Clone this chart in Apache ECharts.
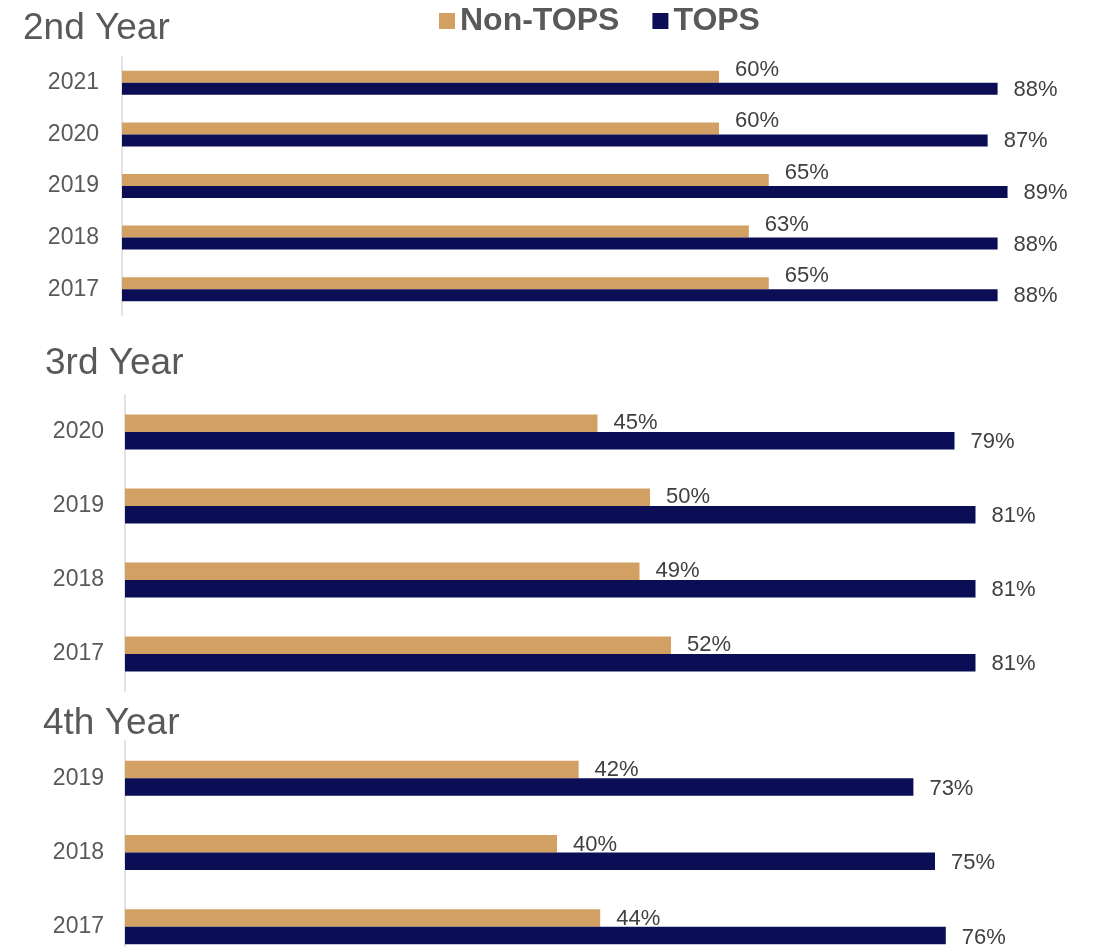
<!DOCTYPE html>
<html>
<head>
<meta charset="utf-8">
<script src="https://cdn.jsdelivr.net/npm/echarts@6/dist/echarts.min.js"></script>
<style>
  html, body { margin: 0; padding: 0; background: #fff; overflow: hidden; }
  /* taller than the window so the last panel can run past the bottom edge */
  #main { width: 1094px; height: 1000px; }
</style>
</head>
<body>
<div id="main"></div>
<script>
// data
var years2 = ['2021', '2020', '2019', '2018', '2017']
var nonTops2 = [60, 60, 65, 63, 65]
var tops2 = [88, 87, 89, 88, 88]

var years3 = ['2020', '2019', '2018', '2017']
var nonTops3 = [45, 50, 49, 52]
var tops3 = [79, 81, 81, 81]

var years4 = ['2019', '2018', '2017']
var nonTops4 = [42, 40, 44]
var tops4 = [73, 75, 76]

var titles = ['2nd Year', '3rd Year', '4th Year']

var FONT = 'Liberation Sans, Arial, sans-serif'
var TAN = '#D1A062'
var NAVY = '#0B0E55'
var LABEL = '#404040'

// panel layout: grid left/top/height, x max, bar width, label offsets
var panels = [
  { years: years2, non: nonTops2, tops: tops2, left: 122, top: 57, height: 258, max: 90, width: 895.5, bar: 12, offNon: [0, -7], offTops: [0, 1], margin: 23 },
  { years: years3, non: nonTops3, tops: tops3, left: 125, top: 395, height: 296, max: 90, width: 945, bar: 17.5, offNon: [0, 0], offTops: [0, 1], margin: 21 },
  { years: years4, non: nonTops4, tops: tops4, left: 125, top: 741, height: 223, max: 80, width: 864, bar: 17.5, offNon: [0, 1], offTops: [0, 2], margin: 21 }
]

var grid = []
var xAxis = []
var yAxis = []
var series = []

panels.forEach(function (p, i) {
  grid.push({ left: p.left, top: p.top, width: p.width, height: p.height })
  xAxis.push({
    gridIndex: i,
    type: 'value',
    min: 0,
    max: p.max,
    show: false
  })
  yAxis.push({
    gridIndex: i,
    type: 'category',
    inverse: true,
    data: p.years,
    axisLine: { show: true, lineStyle: { color: '#D9D9D9', width: 1.5 } },
    axisTick: { show: false },
    axisLabel: { color: '#595959', fontSize: 23, fontFamily: FONT, margin: p.margin },
    splitLine: { show: false }
  })
  series.push({
    name: 'Non-TOPS',
    type: 'bar',
    xAxisIndex: i,
    yAxisIndex: i,
    data: p.non,
    barWidth: p.bar,
    barGap: '0%',
    itemStyle: { color: TAN },
    label: {
      show: true,
      position: 'right',
      distance: 16,
      offset: p.offNon,
      formatter: '{c}%',
      color: LABEL,
      fontSize: 22,
      fontFamily: FONT
    }
  })
  series.push({
    name: 'TOPS',
    type: 'bar',
    xAxisIndex: i,
    yAxisIndex: i,
    data: p.tops,
    barWidth: p.bar,
    barGap: '0%',
    itemStyle: { color: NAVY },
    label: {
      show: true,
      position: 'right',
      distance: 16,
      offset: p.offTops,
      formatter: '{c}%',
      color: LABEL,
      fontSize: 22,
      fontFamily: FONT
    }
  })
})

var titleStyle = { color: '#595959', fontSize: 37, fontWeight: 'normal', fontFamily: FONT }

var myChart = echarts.init(document.getElementById('main'))
myChart.setOption({
  animation: false,
  title: [
    { text: titles[0], left: 18, top: 5, textStyle: titleStyle },
    { text: titles[1], left: 40, top: 340, textStyle: titleStyle },
    { text: titles[2], left: 38, top: 700, textStyle: titleStyle }
  ],
  legend: {
    data: ['Non-TOPS', 'TOPS'],
    left: 434,
    top: 0,
    itemWidth: 16,
    itemHeight: 16,
    itemGap: 33,
    icon: 'rect',
    textStyle: { color: '#595959', fontSize: 32, fontWeight: 'bold', fontFamily: FONT }
  },
  grid: grid,
  xAxis: xAxis,
  yAxis: yAxis,
  series: series
})
</script>
</body>
</html>
